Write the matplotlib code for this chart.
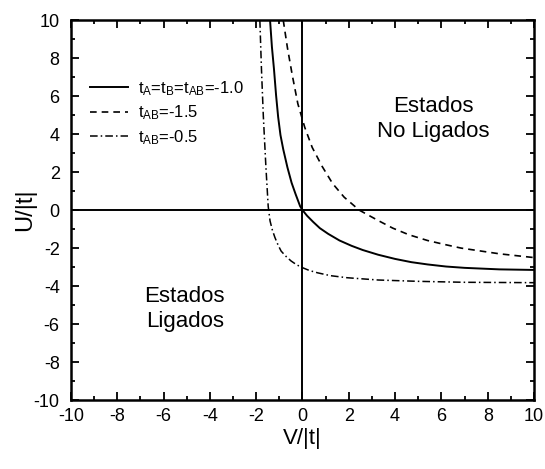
import matplotlib as mpl
import matplotlib.pyplot as plt
from matplotlib.ticker import MultipleLocator

# curves
v_ref = [-1.40, -1.32, -1.23, -1.14, -1.05, -0.95, -0.83, -0.65, -0.47, -0.3,
         -0.1, 0.0, 0.2, 0.46, 0.75, 1.11, 1.6, 2.12, 2.6, 3.27, 4.0, 4.7,
         5.4, 6.2, 7.0, 8.5, 10.0]
u_ref = [10.0, 8.6, 7.42, 6.05, 4.9, 3.95, 3.2, 2.25, 1.44, 0.85,
         0.2, 0.0, -0.3, -0.62, -0.95, -1.25, -1.6, -1.88, -2.1, -2.35, -2.57, -2.74,
         -2.86, -2.97, -3.04, -3.12, -3.15]

v_15 = [-0.83, -0.65, -0.44, -0.2, 0.1, 0.42, 0.85, 1.3, 1.8, 2.45, 3.27,
        3.9, 4.6, 5.4, 6.1, 6.85, 8.5, 10.0]
u_15 = [10.0, 8.55, 7.1, 5.6, 4.35, 3.3, 2.3, 1.4, 0.68, 0.0, -0.55,
        -0.95, -1.3, -1.6, -1.8, -2.0, -2.3, -2.5]

v_05 = [-1.84, -1.77, -1.69, -1.58, -1.48, -1.40, -1.30, -1.19, -1.05, -0.92,
        -0.7, -0.49, -0.25, 0.0, 0.3, 0.65, 1.2, 1.93, 3.27, 5.0, 7.0, 10.0]
u_05 = [10.0, 7.4, 4.95, 2.3, 0.2, -0.57, -1.05, -1.44, -1.85, -2.16,
        -2.45, -2.68, -2.88, -3.03, -3.18, -3.3, -3.45, -3.56, -3.68, -3.75, -3.8, -3.82]

labels = [r'$\mathregular{t_A}$=$\mathregular{t_B}$=$\mathregular{t_{AB}}$=-1.0',
          r'$\mathregular{t_{AB}}$=-1.5',
          r'$\mathregular{t_{AB}}$=-0.5']

mpl.rc('font', family='Liberation Sans', size=13)
mpl.rc('axes', unicode_minus=False)

fig = plt.figure(figsize=(5.45, 4.69), dpi=100)
ax = fig.add_axes([0.130, 0.147, 0.850, 0.810])

ax.axhline(0, color='black', lw=1.4)
ax.axvline(0, color='black', lw=1.4)

ax.plot(v_ref, u_ref, color='black', lw=1.4, label=labels[0])
ax.plot(v_15, u_15, color='black', lw=1.2, ls=(0, (4, 3)), label=labels[1])
ax.plot(v_05, u_05, color='black', lw=1.1, ls=(0, (5, 2, 1, 2)), label=labels[2])

ax.set_xlim(-10, 10)
ax.set_ylim(-10, 10)
for axis in (ax.xaxis, ax.yaxis):
    axis.set_major_locator(MultipleLocator(2))
    axis.set_minor_locator(MultipleLocator(1))
ax.tick_params(which='both', direction='in', top=True, right=True, width=1.3)
ax.tick_params(which='major', length=6, pad=8)
ax.tick_params(axis='x', which='major', pad=6)
ax.tick_params(which='minor', length=3)
for s in ax.spines.values():
    s.set_linewidth(1.8)

ax.set_xlabel('V/|t|', fontsize=16, labelpad=2)
ax.set_ylabel('U/|t|', fontsize=17, labelpad=-2)

ax.text(5.64, 4.8, 'Estados\nNo Ligados', ha='center', va='center',
        fontsize=16, linespacing=1.25)
ax.text(-5.08, -5.2, 'Estados\nLigados', ha='center', va='center',
        fontsize=16, linespacing=1.25)

ax.legend(loc='upper left', bbox_to_anchor=(0.041, 0.845), frameon=False,
          borderaxespad=0, borderpad=0, handlelength=2.3, handletextpad=0.6,
          labelspacing=0.35, fontsize=12)

plt.savefig('out.png', dpi=100)
